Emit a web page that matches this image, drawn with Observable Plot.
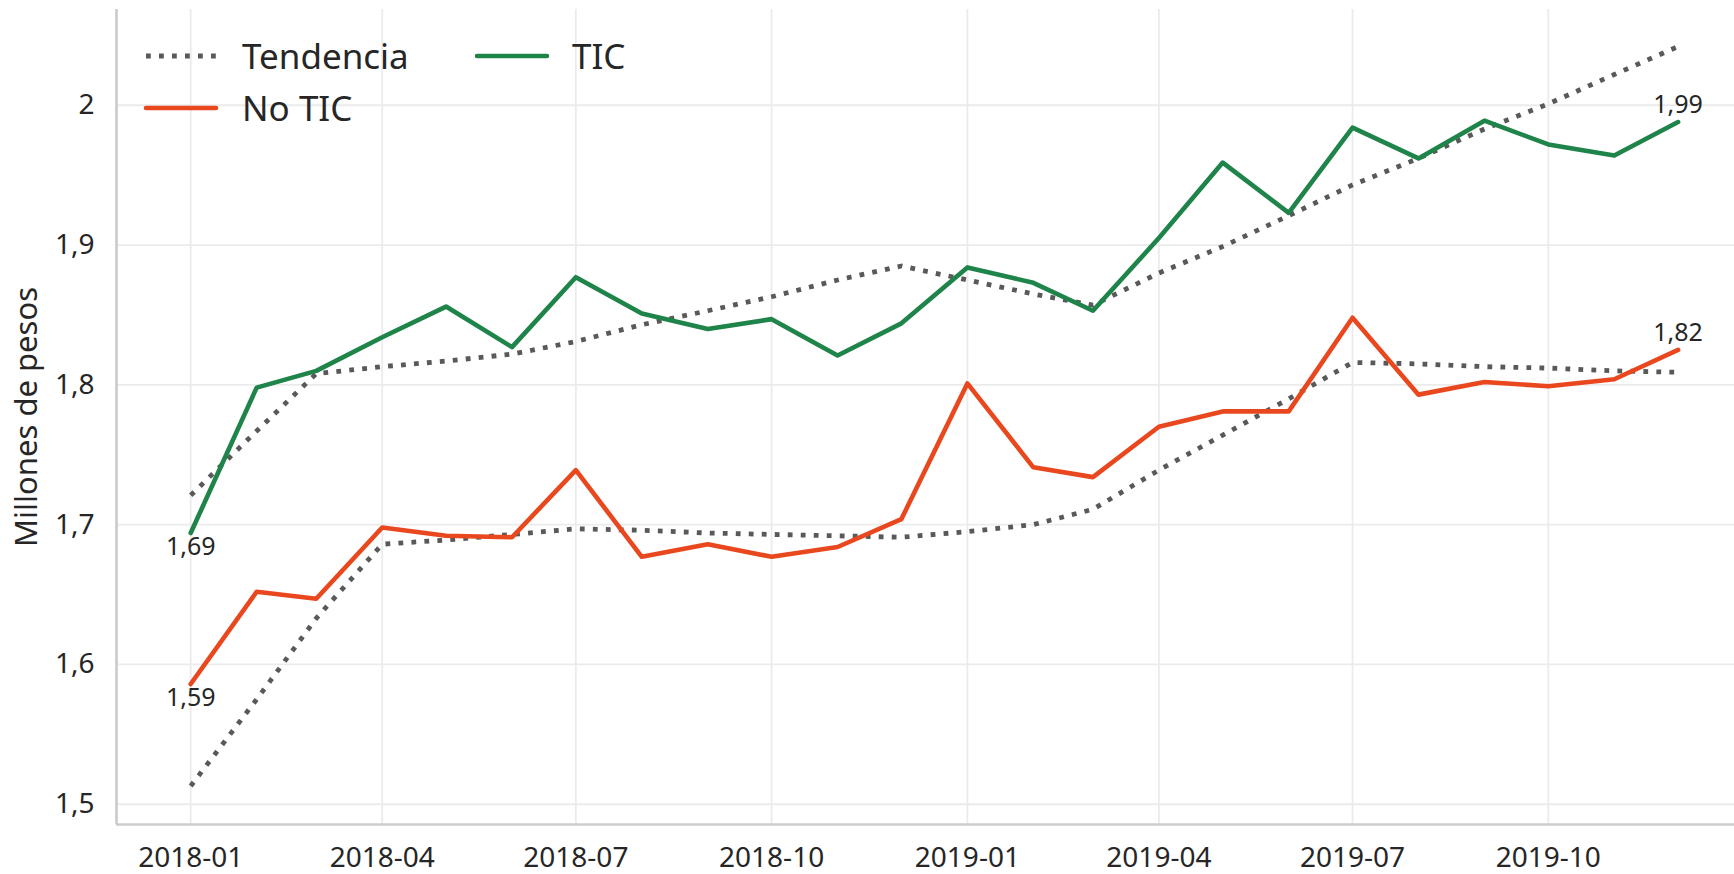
<!DOCTYPE html>
<html><head><meta charset="utf-8">
<script src="https://cdn.jsdelivr.net/npm/d3@7"></script>
<script src="https://cdn.jsdelivr.net/npm/@observablehq/plot@0.6"></script>
<style>
body{margin:0;background:#fff;}
#wrap{position:relative;width:1734px;height:874px;font-family:"Noto Sans",sans-serif;}
#legend{position:absolute;left:0;top:0;pointer-events:none;}
</style></head><body><div id="wrap"></div>
<script>
const months = ["2018-01","2018-02","2018-03","2018-04","2018-05","2018-06","2018-07","2018-08","2018-09","2018-10","2018-11","2018-12",
                "2019-01","2019-02","2019-03","2019-04","2019-05","2019-06","2019-07","2019-08","2019-09","2019-10","2019-11","2019-12"];
const tic = [1.694,1.798,1.810,1.834,1.856,1.827,1.877,1.851,1.840,1.847,1.821,1.844,
             1.884,1.873,1.853,1.905,1.959,1.923,1.984,1.962,1.989,1.972,1.964,1.988];
const noTic = [1.586,1.652,1.647,1.698,1.692,1.691,1.739,1.677,1.686,1.677,1.684,1.704,
               1.801,1.741,1.734,1.770,1.781,1.781,1.848,1.793,1.802,1.799,1.804,1.825];
const ticTrend = [1.721,1.767,1.808,1.813,1.817,1.822,1.831,1.843,1.853,1.863,1.875,1.885,
                  1.875,1.865,1.857,1.880,1.899,1.921,1.943,1.962,1.983,2.001,2.022,2.042];
const noTicTrend = [1.513,1.575,1.633,1.686,1.689,1.693,1.697,1.696,1.694,1.693,1.692,1.691,
                    1.695,1.700,1.711,1.739,1.764,1.790,1.816,1.815,1.813,1.812,1.810,1.809];
const yTicks = [1.5,1.6,1.7,1.8,1.9,2.0];
const xTickLabels = ["2018-01","2018-04","2018-07","2018-10","2019-01","2019-04","2019-07","2019-10"];
const seriesNames = ["Tendencia","No TIC","TIC"];
const yLabel = "Millones de pesos";

const parse = d3.utcParse("%Y-%m");
const rows = months.map((m,i)=>({date: parse(m), tic: tic[i], noTic: noTic[i], ticTrend: ticTrend[i], noTicTrend: noTicTrend[i]}));
const xTicks = xTickLabels.map(parse);
const fmt2 = v => d3.format(".2f")(v).replace(".", ",");
const yFmt = v => String(+v.toFixed(1)).replace(".", ",");
const day = 864e5;
const x0 = new Date(+parse("2018-01") - 34.87*day);
const x1 = new Date(+parse("2019-12") + 26.5*day);
const y0 = 1.4855, y1 = 2.0685;

const C_TIC = "#1e8449", C_NO = "#e9481f", C_TR = "#595959";
const first = [rows[0]], last = [rows[rows.length-1]];

const plot = Plot.plot({
  width:1734, height:874, marginLeft:116, marginRight:0, marginTop:9, marginBottom:50,
  style:{fontFamily:'"Noto Sans", sans-serif', fontSize:"28px", color:"#262626", background:"#fff", overflow:"visible"},
  x:{type:"utc", domain:[x0,x1]},
  y:{domain:[y0,y1]},
  marks:[
    Plot.gridY(yTicks,{stroke:"#ebebeb", strokeOpacity:1, strokeWidth:1.8}),
    Plot.gridX(xTicks,{stroke:"#ebebeb", strokeOpacity:1, strokeWidth:1.8}),
    Plot.ruleX([x0],{stroke:"#cccccc", strokeWidth:2.7}),
    Plot.ruleY([y0],{stroke:"#cccccc", strokeWidth:2.7}),
    Plot.axisY({ticks:yTicks, tickSize:0, tickPadding:22, tickFormat:yFmt, label:null, fontSize:28}),
    Plot.axisX({ticks:xTicks, tickSize:0, tickPadding:23, tickFormat:d3.utcFormat("%Y-%m"), label:null, fontSize:28}),
    Plot.text([yLabel],{frameAnchor:"left", rotate:-90, dx:-89, fontSize:31, textAnchor:"middle", lineAnchor:"middle", fill:"#262626"}),
    Plot.line(rows,{x:"date", y:"ticTrend", stroke:C_TR, strokeWidth:4.8, strokeDasharray:"4.8,8.2", strokeLinecap:"butt"}),
    Plot.line(rows,{x:"date", y:"noTicTrend", stroke:C_TR, strokeWidth:4.8, strokeDasharray:"4.8,8.2", strokeLinecap:"butt"}),
    Plot.line(rows,{x:"date", y:"noTic", stroke:C_NO, strokeWidth:4.6}),
    Plot.line(rows,{x:"date", y:"tic", stroke:C_TIC, strokeWidth:4.6}),
    Plot.text(first,{x:"date", y:"tic", text:d=>fmt2(d.tic), dy:14, fontSize:25, fill:"#262626"}),
    Plot.text(first,{x:"date", y:"noTic", text:d=>fmt2(d.noTic), dy:14, fontSize:25, fill:"#262626"}),
    Plot.text(last,{x:"date", y:"tic", text:d=>fmt2(d.tic), dy:-17, fontSize:25, fill:"#262626"}),
    Plot.text(last,{x:"date", y:"noTic", text:d=>fmt2(d.noTic), dy:-17, fontSize:25, fill:"#262626"})
  ]
});
const wrap = document.getElementById("wrap");
wrap.appendChild(plot);

// legend overlay
const ns = "http://www.w3.org/2000/svg";
const lg = document.createElementNS(ns,"svg");
lg.setAttribute("id","legend"); lg.setAttribute("width","1734"); lg.setAttribute("height","874");
const items = [
  {name: seriesNames[0], color: C_TR, dash: true, hx: 146, tx: 242, cy: 56},
  {name: seriesNames[1], color: C_NO, dash: false, hx: 146, tx: 242, cy: 108},
  {name: seriesNames[2], color: C_TIC, dash: false, hx: 477, tx: 572, cy: 56}
];
for (const it of items) {
  const l = document.createElementNS(ns,"line");
  l.setAttribute("x1", it.hx); l.setAttribute("x2", it.hx+70);
  l.setAttribute("y1", it.cy); l.setAttribute("y2", it.cy);
  l.setAttribute("stroke", it.color);
  if (it.dash) { l.setAttribute("stroke-width","4.8"); l.setAttribute("stroke-dasharray","4.8,8.2"); }
  else { l.setAttribute("stroke-width","4.6"); l.setAttribute("stroke-linecap","round"); }
  lg.appendChild(l);
  const t = document.createElementNS(ns,"text");
  t.setAttribute("x", it.tx); t.setAttribute("y", it.cy);
  t.setAttribute("dy","0.36em");
  t.setAttribute("font-size","35"); t.setAttribute("fill","#262626");
  t.setAttribute("font-family",'"Noto Sans", sans-serif');
  t.textContent = it.name;
  lg.appendChild(t);
}
wrap.appendChild(lg);
</script></body></html>
